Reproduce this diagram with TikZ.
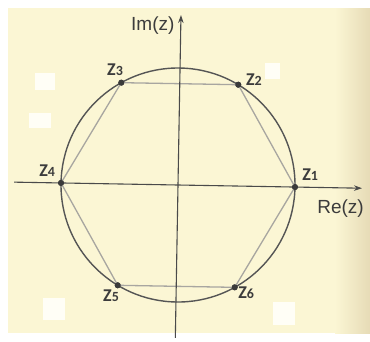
\documentclass[tikz,border=0pt]{standalone}
\usepackage{fontspec}
\setmainfont{Liberation Sans}
\newfontfamily\labfont{Carlito}
\usetikzlibrary{arrows.meta}
\definecolor{paper}{HTML}{FBF6D4}
\definecolor{paperdark}{HTML}{E6DBB6}
\definecolor{axiscol}{HTML}{4A4A4A}
\definecolor{circcol}{HTML}{555555}
\definecolor{hexcol}{HTML}{A8A6A0}
\definecolor{dotcol}{HTML}{3A3A3A}
\definecolor{txtcol}{HTML}{3C3C3C}
\definecolor{patchcol}{HTML}{FFFEF6}
\tikzset{
  axisline/.style={draw=axiscol, line width=1.1pt, -{Stealth[length=8pt,width=5.5pt]}},
  circline/.style={draw=circcol, line width=1.4pt},
  hexline/.style={draw=hexcol, line width=1.3pt},
  vdot/.style={circle, fill=dotcol, inner sep=0pt, minimum size=6pt},
  zlab/.style={text=txtcol, font=\labfont\bfseries\fontsize{18}{18}\selectfont, inner sep=0pt},
  axlab/.style={text=txtcol, font=\fontsize{19}{19}\selectfont, inner sep=0pt},
  patch/.style={fill=patchcol, draw=none}
}
\newcommand{\zl}[1]{Z{\fontsize{14}{14}\selectfont #1}}
\begin{document}
\begin{tikzpicture}[x=1pt,y=-1pt]
\useasboundingbox (0,0) rectangle (370,341);
\fill[white] (0,0) rectangle (370,341);
\fill[paper] (8,8) rectangle (370,333);
\shade[left color=paper, right color=paperdark] (335,8) rectangle (370,333);
% white patches
\fill[patch] (35,73) rectangle (55,90);
\fill[patch] (29,113) rectangle (51,128);
\fill[patch] (265,63) rectangle (280,79);
\fill[patch] (43,298) rectangle (65,320);
\fill[patch] (273,302) rectangle (295,325);
\begin{scope}[x=1pt,y=1pt,shift={(178pt,-185pt)},rotate=-1]
  \coordinate (O) at (0,0);
  \coordinate (xs) at (-164,0);
  \coordinate (xe) at (184,0);
  \coordinate (ys) at (0,-153);
  \coordinate (ye) at (0,170);
  \draw[circline] (O) circle[radius=117];
  \foreach \k in {1,...,6} {
    \node[vdot] (z\k) at ({(\k-1)*60}:117) {};
  }
  \draw[hexline] (z1.center) -- (z2.center) -- (z3.center) -- (z4.center) -- (z5.center) -- (z6.center) -- cycle;
  \draw[axisline] (xs) -- (xe);
  \draw[axisline] (ys) -- (ye);
  \foreach \k in {1,...,6} {
    \node[vdot] at (z\k.center) {};
  }
  \node[zlab] (l1) at (132,13) {\zl{1}};
  \node[zlab] (l2) at (74,107) {\zl{2}};
  \node[zlab] (l3) at (-65,114) {\zl{3}};
  \node[zlab] (l4) at (-131,12) {\zl{4}};
  \node[zlab] (l5) at (-65,-112) {\zl{5}};
  \node[zlab] (l6) at (70,-107) {\zl{6}};
  \node[axlab] (im) at (-28,159) {Im(z)};
  \node[axlab] (re) at (163,-21) {Re(z)};
\end{scope}
\end{tikzpicture}
\end{document}
